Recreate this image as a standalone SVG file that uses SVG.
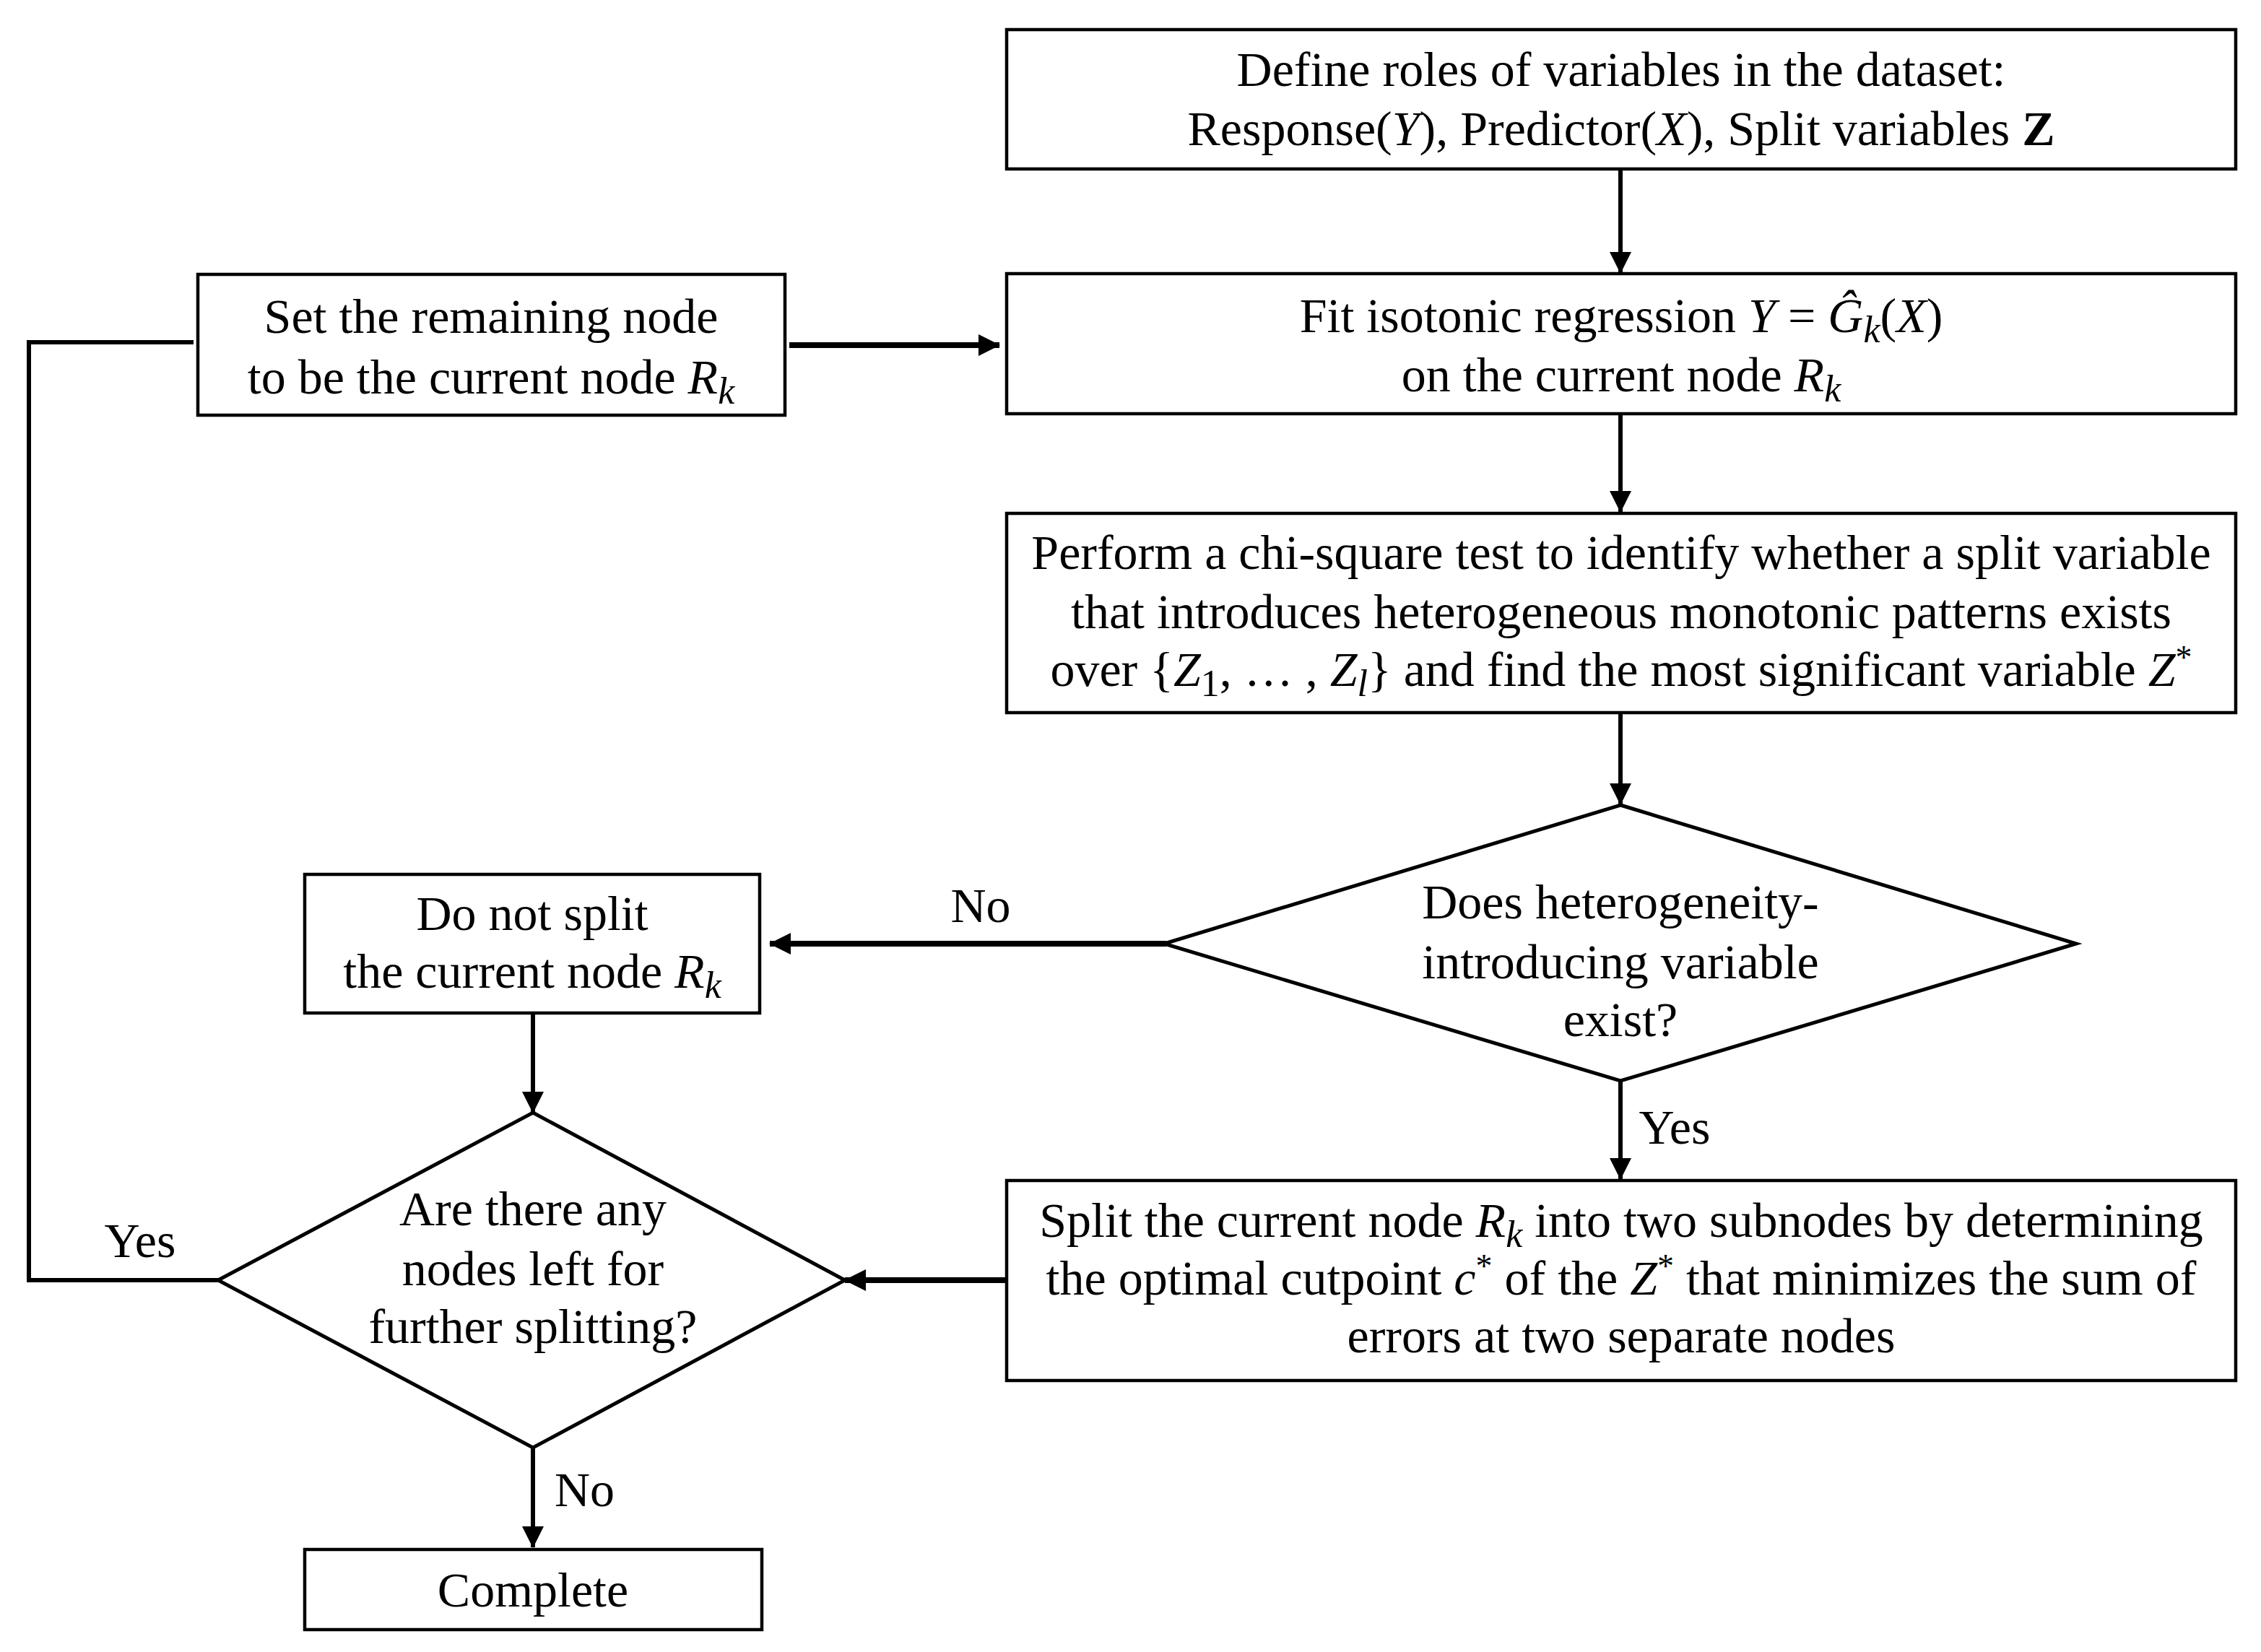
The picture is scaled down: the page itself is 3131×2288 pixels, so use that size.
<svg xmlns="http://www.w3.org/2000/svg" width="3131" height="2288" viewBox="0 0 3131 2288">
<style>
.box{fill:#fff;stroke:#000;stroke-width:4.5}
.dia{fill:#fff;stroke:#000;stroke-width:5}
text{font-family:"Liberation Serif","Times New Roman",serif;font-size:68px;fill:#000;text-anchor:middle}
.i{font-style:italic}
.b{font-weight:bold}
.sub{font-size:52px;font-style:italic}
.sup{font-size:46px}
.c{fill:none;stroke:#000;stroke-width:6}
.t{stroke-width:8}
</style>
<defs>
<marker id="ah" markerUnits="userSpaceOnUse" markerWidth="30" markerHeight="30" refX="29" refY="15" orient="auto">
<path d="M0,0 L30,15 L0,30 z" fill="#000"/>
</marker>
</defs>
<rect width="3131" height="2288" fill="#fff"/>
<g id="connectors">
<path class="c" d="M2244 234 V378" marker-end="url(#ah)"/>
<path class="c" d="M2244 573 V709" marker-end="url(#ah)"/>
<path class="c" d="M2244 987 V1114" marker-end="url(#ah)"/>
<path class="c" d="M2244 1497 V1633" marker-end="url(#ah)"/>
<path class="c t" d="M1615 1307 H1066" marker-end="url(#ah)"/>
<path class="c" d="M738 1404 V1541" marker-end="url(#ah)"/>
<path class="c t" d="M1392 1773 H1170" marker-end="url(#ah)"/>
<path class="c" d="M738 2004 V2143" marker-end="url(#ah)"/>
<path class="c t" d="M1093 478 H1384" marker-end="url(#ah)"/>
<path class="c" d="M268 474 H40 V1773 H302" stroke-width="7"/>
<text x="1358" y="1277">No</text>
<text x="2319" y="1584">Yes</text>
<text x="768" y="2086" style="text-anchor:start">No</text>
<text x="194" y="1741">Yes</text>
</g>
<g id="define">
<rect class="box" x="1394" y="41" width="1702" height="193"/>
<text x="2245" y="119">Define roles of variables in the dataset:</text>
<text x="2245" y="201">Response(<tspan class="i">Y</tspan>), Predictor(<tspan class="i">X</tspan>), Split variables <tspan class="b">Z</tspan></text>
</g>
<g id="fit">
<rect class="box" x="1394" y="379" width="1702" height="194"/>
<text x="2245" y="460">Fit isotonic regression <tspan class="i">Y</tspan> = <tspan class="i">Ĝ</tspan><tspan class="sub" dy="14">k</tspan><tspan dy="-14">(</tspan><tspan class="i">X</tspan>)</text>
<text x="2245" y="542">on the current node <tspan class="i">R</tspan><tspan class="sub" dy="14">k</tspan></text>
</g>
<g id="set">
<rect class="box" x="274" y="380" width="813" height="195"/>
<text x="680" y="461">Set the remaining node</text>
<text x="680" y="545">to be the current node <tspan class="i">R</tspan><tspan class="sub" dy="14">k</tspan></text>
</g>
<g id="perform">
<rect class="box" x="1394" y="711" width="1702" height="276"/>
<text x="2245" y="788">Perform a chi-square test to identify whether a split variable</text>
<text x="2245" y="870">that introduces heterogeneous monotonic patterns exists</text>
<text x="2245" y="950">over {<tspan class="i">Z</tspan><tspan class="sub" style="font-style:normal" dy="14">1</tspan><tspan dy="-14">, … , </tspan><tspan class="i">Z</tspan><tspan class="sub" dy="14">l</tspan><tspan dy="-14">} and find the most significant variable </tspan><tspan class="i">Z</tspan><tspan class="sup" dy="-24">*</tspan></text>
</g>
<g id="decision1">
<polygon class="dia" points="2244,1115 2875,1307 2244,1497 1612,1307"/>
<text x="2244" y="1272">Does heterogeneity-</text>
<text x="2244" y="1355">introducing variable</text>
<text x="2244" y="1435">exist?</text>
</g>
<g id="nosplit">
<rect class="box" x="422" y="1211" width="630" height="192"/>
<text x="737" y="1288">Do not split</text>
<text x="737" y="1368">the current node <tspan class="i">R</tspan><tspan class="sub" dy="14">k</tspan></text>
</g>
<g id="decision2">
<polygon class="dia" points="738,1541 1170,1773 738,2005 302,1773"/>
<text x="738" y="1697">Are there any</text>
<text x="738" y="1780">nodes left for</text>
<text x="738" y="1860">further splitting?</text>
</g>
<g id="split">
<rect class="box" x="1394" y="1635" width="1702" height="277"/>
<text x="2245" y="1713">Split the current node <tspan class="i">R</tspan><tspan class="sub" dy="14">k</tspan><tspan dy="-14"> into two subnodes by determining</tspan></text>
<text x="2245" y="1793">the optimal cutpoint <tspan class="i">c</tspan><tspan class="sup" dy="-24">*</tspan><tspan dy="24"> of the </tspan><tspan class="i">Z</tspan><tspan class="sup" dy="-24">*</tspan><tspan dy="24"> that minimizes the sum of</tspan></text>
<text x="2245" y="1873">errors at two separate nodes</text>
</g>
<g id="complete">
<rect class="box" x="422" y="2146" width="633" height="111"/>
<text x="738" y="2225">Complete</text>
</g>
</svg>
